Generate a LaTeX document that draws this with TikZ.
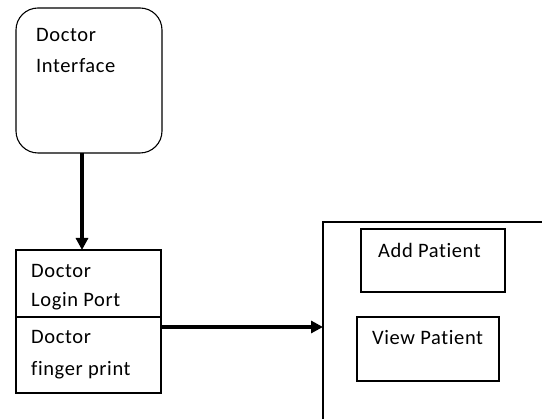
\documentclass[tikz,border=0pt]{standalone}
\usepackage{fontspec}
\setmainfont{Carlito}[Ligatures={NoCommon},LetterSpace=3]
\usetikzlibrary{arrows.meta}
\begin{document}
\begin{tikzpicture}[x=1pt,y=-1pt,
  boxline/.style={draw=black,line width=1.1pt,inner sep=0pt,outer sep=0pt,anchor=north west},
  lbl/.style={anchor=base west,inner sep=0pt,font=\fontsize{20.5}{24}\selectfont},
  thickarrow/.style={line width=3.2pt,-{Triangle[length=12pt,width=12pt]}}]
\useasboundingbox (0,0) rectangle (542,419);
\fill[white] (0,0) rectangle (542,419);
% Doctor interface
\node[boxline,rounded corners=22pt,minimum width=146pt,minimum height=145pt] (iface) at (16,8) {};
\node[lbl] (t1) at (36,42) {Doctor};
\node[lbl] (t2) at (36,73) {Interface};
% Login box
\node[boxline,minimum width=145pt,minimum height=143pt] (login) at (16,250) {};
\coordinate (divL) at (16,317);
\coordinate (divR) at (161,317);
\draw[line width=1.1pt] (divL) -- (divR);
\node[lbl] (t3) at (31,278) {Doctor};
\node[lbl] (t4) at (31,307) {Login Port};
\node[lbl] (t5) at (31,344) {Doctor};
\node[lbl] (t6) at (31,376) {finger print};
% Right container (extends beyond picture)
\coordinate (cBL) at (323,419);
\coordinate (cTL) at (323,222);
\coordinate (cTR) at (542,222);
\draw[line width=1.1pt] (cBL) -- (cTL) -- (cTR);
% Add / View patient
\node[boxline,minimum width=144pt,minimum height=63pt] (add) at (361,229) {};
\node[lbl] (t7) at (378,258) {Add Patient};
\node[boxline,minimum width=142pt,minimum height=64pt] (view) at (357,317) {};
\node[lbl] (t8) at (372,345) {View Patient};
% Arrows
\coordinate (arrIn) at (323,327);
\draw[thickarrow] (iface.south -| 82,0) -- (login.north -| 82,0);
\draw[thickarrow] (login.east |- 0,327) -- (arrIn);
\end{tikzpicture}
\end{document}
